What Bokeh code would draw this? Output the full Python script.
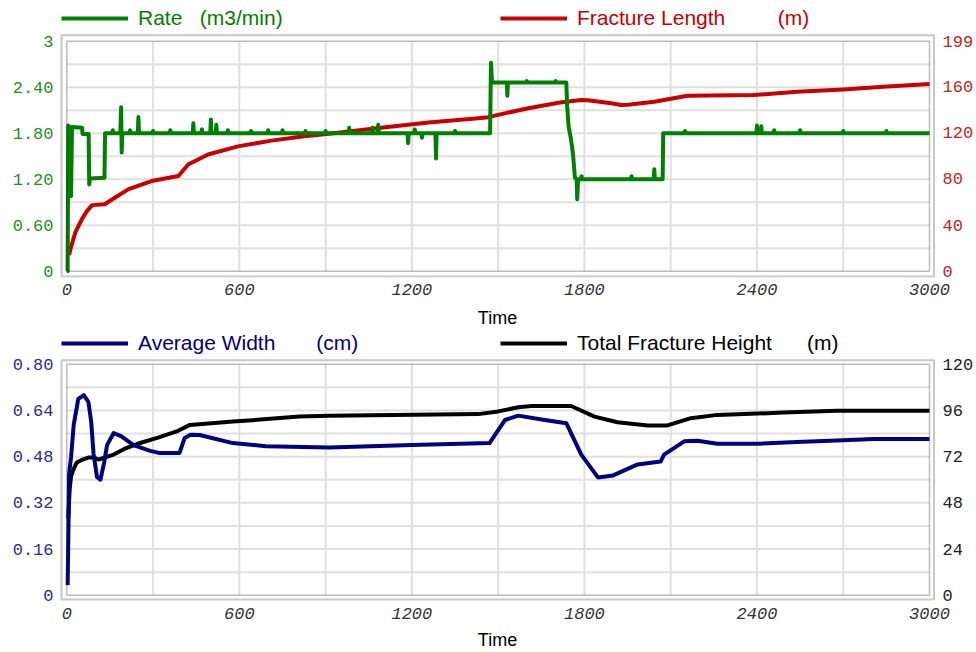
from bokeh.plotting import figure
from bokeh.models import Range1d, LinearAxis, FixedTicker, BoxAnnotation, Legend, LegendItem
from bokeh.layouts import column
from bokeh.embed import file_html
from bokeh.resources import INLINE

# ---------------- data ----------------
rate_time = [
    0, 3, 5, 12, 15, 18, 53, 55, 76, 78, 80, 131, 133,
    158, 160, 162, 186, 189, 191, 193, 218, 220, 222, 247, 249, 251,
    298, 300, 302, 358, 360, 362, 438, 440, 442, 468, 470, 472,
    499, 501, 503, 518, 520, 522, 558, 560, 562, 638, 640, 642,
    698, 700, 702, 748, 750, 752, 828, 830, 832, 898, 900, 902,
    980, 982, 984, 1061, 1063, 1065, 1081, 1083, 1085, 1185, 1187, 1189,
    1208, 1210, 1212, 1233, 1235, 1237, 1282, 1284, 1286, 1348, 1350, 1352,
    1472, 1475, 1479, 1530, 1532, 1534, 1598, 1600, 1602, 1698, 1700, 1702,
    1737, 1740, 1745, 1752, 1760, 1767, 1773, 1775, 1778, 1788, 1790, 1792,
    1962, 1964, 1966, 2041, 2043, 2045, 2072, 2074,
    2148, 2150, 2152, 2398, 2400, 2402, 2413, 2415, 2417, 2458, 2460, 2462,
    2548, 2550, 2552, 2698, 2700, 2702, 2848, 2850, 2852, 3000,
]
rate_value = [
    0.00, 0.00, 1.90, 1.87, 0.98, 1.88, 1.87, 1.79, 1.79, 1.13, 1.21, 1.22, 1.80,
    1.80, 1.84, 1.80, 1.80, 2.14, 1.55, 1.80, 1.80, 1.84, 1.80, 1.80, 2.01, 1.80,
    1.80, 1.83, 1.80, 1.80, 1.84, 1.80, 1.80, 1.93, 1.80, 1.80, 1.85, 1.80,
    1.80, 1.98, 1.80, 1.80, 1.91, 1.80, 1.80, 1.84, 1.80, 1.80, 1.83, 1.80,
    1.80, 1.84, 1.80, 1.80, 1.84, 1.80, 1.80, 1.83, 1.80, 1.80, 1.83, 1.80,
    1.80, 1.87, 1.80, 1.80, 1.87, 1.80, 1.80, 1.91, 1.80, 1.80, 1.67, 1.80,
    1.80, 1.85, 1.80, 1.80, 1.74, 1.80, 1.80, 1.47, 1.80, 1.80, 1.83, 1.80,
    1.80, 2.72, 2.46, 2.46, 2.29, 2.46, 2.46, 2.48, 2.46, 2.46, 2.48, 2.46,
    2.46, 2.15, 1.89, 1.75, 1.54, 1.22, 1.20, 0.94, 1.20, 1.20, 1.24, 1.20,
    1.20, 1.24, 1.20, 1.20, 1.33, 1.20, 1.20, 1.80,
    1.80, 1.83, 1.80, 1.80, 1.90, 1.80, 1.80, 1.89, 1.80, 1.80, 1.84, 1.80,
    1.80, 1.84, 1.80, 1.80, 1.83, 1.80, 1.80, 1.83, 1.80, 1.80,
]

length_time = [8, 13, 30, 53, 70, 88, 132, 168, 215, 295, 388, 422, 491, 595, 711,
               826, 912, 1085, 1258, 1431, 1466, 1530, 1605, 1720, 1789, 1812, 1893,
               1927, 1951, 2043, 2158, 2389, 2539, 2700, 2839, 3000]
length_value = [14, 19.5, 33.8, 45.2, 52, 57.2, 58, 63.8, 71, 78, 82.4, 92.4, 101, 108, 113,
                116.7, 119, 123.9, 128.7, 132.4, 133.3, 137, 141, 146.2, 148.1, 148, 145.3,
                143.8, 144, 146.7, 151.8, 152.4, 155.3, 157.3, 159.5, 162]

width_time = [3, 6, 8, 15, 24, 40, 59, 75, 85, 93, 105, 117, 130, 140, 163, 190, 232, 290,
              320, 392, 410, 430, 462, 577, 693, 913, 1200, 1470, 1524, 1570, 1662, 1737,
              1789, 1847, 1900, 1985, 2065, 2077, 2147, 2193, 2262, 2412, 2539, 2678, 2805, 3000]
width_value = [0.035, 0.25, 0.42, 0.48, 0.59, 0.68, 0.693, 0.67, 0.60, 0.49, 0.41, 0.40, 0.46,
               0.52, 0.562, 0.55, 0.52, 0.50, 0.493, 0.493, 0.545, 0.556, 0.555, 0.527, 0.516,
               0.512, 0.52, 0.527, 0.607, 0.622, 0.607, 0.596, 0.487, 0.408, 0.415, 0.453,
               0.463, 0.487, 0.533, 0.535, 0.525, 0.525, 0.531, 0.536, 0.541, 0.541]

height_time = [5, 10, 15, 25, 35, 55, 75, 95, 110, 130, 163, 200, 255, 320, 382, 428, 578,
               809, 912, 1431, 1500, 1570, 1616, 1754, 1835, 1915, 2020, 2089, 2170, 2262,
               2354, 2492, 2678, 3000]
height_value = [40, 55, 62, 66, 69, 70.5, 71.5, 71.5, 70.5, 71.5, 73.1, 76, 79.1, 82, 85.1,
                88.5, 90.2, 92.8, 93.2, 94.1, 95.5, 97.7, 98.3, 98.3, 92.8, 89.9, 88.2, 88.2,
                92, 93.7, 94.1, 94.9, 95.9, 95.9]

x_ticks = [0, 600, 1200, 1800, 2400, 3000]
x_grid = [300, 600, 900, 1200, 1500, 1800, 2100, 2400, 2700]

rate_ticks = [0, 0.6, 1.2, 1.8, 2.4, 3]
rate_labels = ["0", "0.60", "1.20", "1.80", "2.40", "3"]
rate_grid = [0.3, 0.6, 0.9, 1.2, 1.5, 1.8, 2.1, 2.4, 2.7]
length_ticks = [0, 40, 80, 120, 160, 199]

width_ticks = [0, 0.16, 0.32, 0.48, 0.64, 0.8]
width_labels = ["0", "0.16", "0.32", "0.48", "0.64", "0.80"]
width_grid = [0.08, 0.16, 0.24, 0.32, 0.4, 0.48, 0.56, 0.64, 0.72]
height_ticks = [0, 24, 48, 72, 96, 120]

T_MAX = 3000

GREEN = "#008000"
RED = "#c80000"
NAVY = "#000080"
BLACK = "#000000"
NB = "\u00a0"

# ---------------- frame geometry (pixels) ----------------
W = 976
ML, MR = 59, 40
FRAME_L, FRAME_R = ML, W - MR
IL, IR = 66.3, 930.0      # inner chart border (time 0 .. T_MAX)
OL, OR = 61.0, 934.5      # outer chart border


def overrides(ticks, labels):
    d = {}
    for t, l in zip(ticks, labels):
        d[float(t)] = l
        d[str(t)] = l
    return d


def style_axis(ax, color, italic=False, standoff=6):
    ax.axis_line_color = None
    ax.major_tick_line_color = None
    ax.minor_tick_line_color = None
    ax.major_tick_in = 0
    ax.major_tick_out = 0
    ax.major_label_text_font = "Liberation Mono"
    ax.major_label_text_font_size = "17px"
    ax.major_label_text_color = color
    ax.major_label_text_font_style = "italic" if italic else "normal"
    ax.major_label_standoff = standoff


def vrange(vmax, it, ib, ot, ob, fb):
    k = vmax / (ib - it)
    return (-(fb - ib) * k, vmax + it * k), (-(ob - ib) * k, vmax + (it - ot) * k)


def make_fig(height, fb, it, ib, ot, ob, ymax, ymax_r, yticks, ylabels, ygrid, rticks,
             lcolor, rcolor, label_standoff):
    kx = T_MAX / (IR - IL)
    xr = (-(IL - FRAME_L) * kx, T_MAX + (FRAME_R - IR) * kx)
    xo = (-(IL - OL) * kx, T_MAX + (OR - IR) * kx)
    yr, yo = vrange(ymax, it, ib, ot, ob, fb)
    rr, _ = vrange(ymax_r, it, ib, ot, ob, fb)

    p = figure(width=W, height=height, output_backend="svg", toolbar_location=None,
               title=None, x_range=Range1d(*xr), y_range=Range1d(*yr),
               min_border_left=ML, min_border_right=MR, min_border_top=0,
               min_border_bottom=height - fb)
    p.extra_y_ranges = {"right": Range1d(*rr)}
    p.background_fill_color = "white"
    p.border_fill_color = "white"
    p.outline_line_color = None
    p.xgrid.visible = False
    p.ygrid.visible = False

    xa = p.xaxis[0]
    xa.ticker = FixedTicker(ticks=x_ticks)
    style_axis(xa, "#333333", italic=True, standoff=6)
    xa.axis_label = "Time"
    xa.axis_label_text_font = "Liberation Sans"
    xa.axis_label_text_font_size = "18px"
    xa.axis_label_text_font_style = "normal"
    xa.axis_label_text_color = "#000000"
    xa.axis_label_standoff = label_standoff

    ya = p.yaxis[0]
    ya.ticker = FixedTicker(ticks=yticks)
    ya.major_label_overrides = overrides(yticks, ylabels)
    style_axis(ya, lcolor, standoff=6)

    ra = LinearAxis(y_range_name="right", ticker=FixedTicker(ticks=rticks))
    style_axis(ra, rcolor, standoff=7)
    p.add_layout(ra, "right")

    # grid lines, limited to the chart box
    p.segment(x0=x_grid, y0=[0] * len(x_grid), x1=x_grid, y1=[ymax] * len(x_grid),
              line_color="#e0e0e0", line_width=2)
    p.segment(x0=[0] * len(ygrid), y0=ygrid, x1=[T_MAX] * len(ygrid), y1=ygrid,
              line_color="#e0e0e0", line_width=2)

    # double border
    p.add_layout(BoxAnnotation(left=xo[0], right=xo[1], bottom=yo[0], top=yo[1],
                               fill_alpha=0, line_color="#4a4a4a", line_width=2))
    p.add_layout(BoxAnnotation(left=0, right=T_MAX, bottom=0, top=ymax,
                               fill_alpha=0, line_color="#222222", line_width=1.5))
    return p


def add_legend(p, renderer, label, color, vx, vy):
    leg = Legend(items=[LegendItem(label=label, renderers=[renderer])],
                 location=(vx, vy), orientation="horizontal",
                 glyph_width=67, glyph_height=20, label_standoff=10,
                 padding=0, margin=0, spacing=0,
                 border_line_color=None, background_fill_alpha=0,
                 label_text_font="Liberation Sans", label_text_font_size="21px",
                 label_text_color=color)
    p.add_layout(leg)


# ---------------- top chart ----------------
H1, FB1 = 330, 279
p1 = make_fig(H1, FB1, 41, 272.7, 35, 278, 3, 199, rate_ticks, rate_labels, rate_grid,
              length_ticks, "#238f23", "#cc2222", 10)
r_len = p1.line(length_time, length_value, y_range_name="right", line_color=RED,
                line_width=4, line_join="round")
r_rate = p1.line(rate_time, rate_value, line_color=GREEN, line_width=4, line_join="round")
add_legend(p1, r_rate, "Rate" + NB * 3 + "(m3/min)", GREEN, 2, FB1 - 32)
add_legend(p1, r_len, "Fracture Length" + NB * 9 + "(m)", RED, 441, FB1 - 32)

# ---------------- bottom chart ----------------
H2, FB2 = 322, 273
p2 = make_fig(H2, FB2, 34, 266.7, 30, 271, 0.8, 120, width_ticks, width_labels, width_grid,
              height_ticks, "#2b2b95", "#222222", 8)
r_h = p2.line(height_time, height_value, y_range_name="right", line_color=BLACK,
              line_width=4, line_join="round")
r_w = p2.line(width_time, width_value, line_color=NAVY, line_width=4, line_join="round")
add_legend(p2, r_w, "Average Width" + NB * 7 + "(cm)", NAVY, 2, FB2 - 27)
add_legend(p2, r_h, "Total Fracture Height" + NB * 6 + "(m)", BLACK, 441, FB2 - 27)

layout = column(p1, p2, spacing=0)
open("out.html", "w").write(file_html(layout, INLINE))
